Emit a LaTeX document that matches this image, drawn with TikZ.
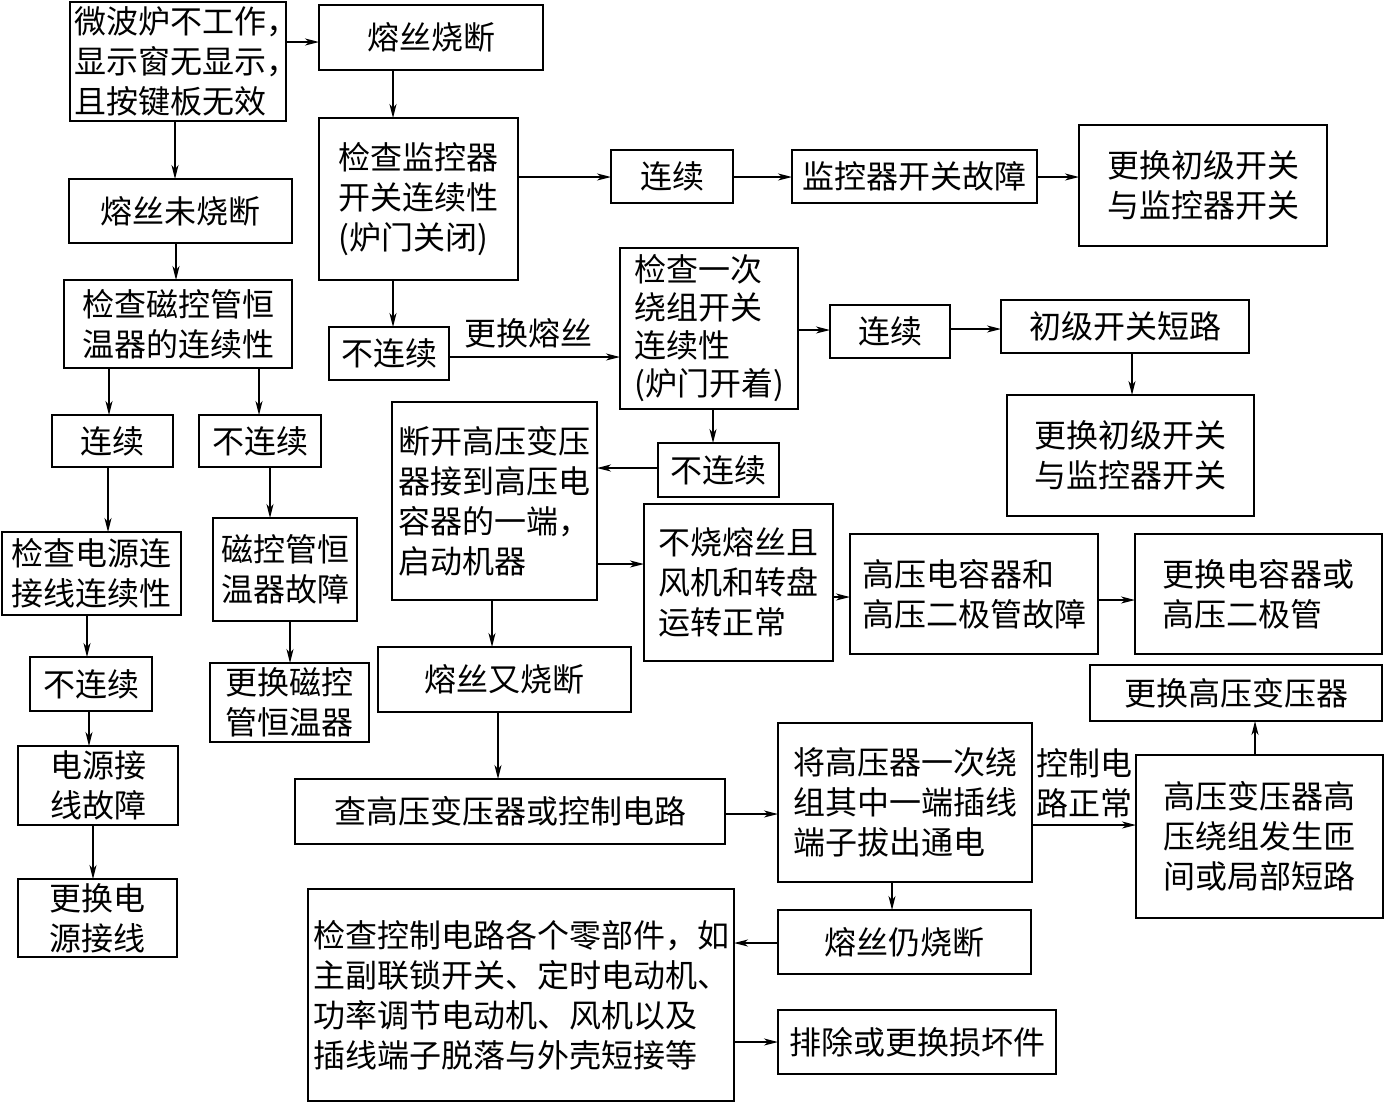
\documentclass[tikz,border=0pt]{standalone}
\usepackage{fontspec}
\newfontfamily\cjk{Noto Sans CJK SC}
\usetikzlibrary{arrows.meta}
\tikzset{
  box/.style={draw, line width=2.8pt, inner sep=0pt, outer sep=0pt, align=left,
    font=\cjk\fontsize{32}{40}\selectfont},
  tight/.style={font=\cjk\fontsize{32}{38}\selectfont},
  lbl/.style={inner sep=0pt, align=left, font=\cjk\fontsize{32}{40}\selectfont},
  arr/.style={-{Stealth[length=14pt,width=7pt,inset=4pt]}, line width=1.4pt}
}
\newcommand\bx[7][]{\node[box, #1, minimum width={(#5)-(#3)}, minimum height={(#6)-(#4)}]
  (#2) at ({((#3)+(#5))/2},{((#4)+(#6))/2}) {#7};}
\newcommand\hc{\makebox[0.5em][l]{，}}
\begin{document}
\begin{tikzpicture}[x=1pt,y=-1pt]
\useasboundingbox[fill=white] (0,0) rectangle (1386,1104);
\bx{A}{70}{2}{286}{121}{微波炉不工作\hc\\显示窗无显示\hc\\且按键板无效}
\bx{B}{319}{5}{543}{70}{熔丝烧断}
\bx{C}{69}{179}{292}{243}{熔丝未烧断}
\bx{D}{319}{118}{518}{280}{检查监控器\\开关连续性\\(炉门关闭)}
\bx{E}{64}{280}{292}{368}{检查磁控管恒\\温器的连续性}
\bx{F}{329}{327}{449}{380}{不连续}
\bx{G}{611}{150}{733}{203}{连续}
\bx{H}{792}{150}{1037}{203}{监控器开关故障}
\bx{I}{1079}{125}{1327}{246}{更换初级开关\\与监控器开关}
\bx[tight]{J}{620}{248}{798}{409}{检查一次\\绕组开关\\连续性\\(炉门开着)}
\bx{K}{830}{305}{950}{358}{连续}
\bx{L}{1001}{300}{1249}{353}{初级开关短路}
\bx{M}{1007}{395}{1254}{516}{更换初级开关\\与监控器开关}
\bx{N}{52}{415}{173}{467}{连续}
\bx{O}{199}{415}{321}{467}{不连续}
\bx{P}{392}{402}{597}{600}{断开高压变压\\器接到高压电\\容器的一端，\\启动机器}
\bx{Q}{658}{443}{779}{497}{不连续}
\bx{R}{2}{532}{181}{615}{检查电源连\\接线连续性}
\bx{S}{213}{518}{357}{621}{磁控管恒\\温器故障}
\bx{T}{644}{504}{833}{661}{不烧熔丝且\\风机和转盘\\运转正常}
\bx{U}{850}{534}{1098}{654}{高压电容器和\\高压二极管故障}
\bx{V}{1135}{534}{1382}{654}{更换电容器或\\高压二极管}
\bx{W}{30}{657}{152}{711}{不连续}
\bx{X}{210}{663}{369}{742}{更换磁控\\管恒温器}
\bx{Y}{378}{647}{631}{712}{熔丝又烧断}
\bx{Z}{1090}{665}{1382}{721}{更换高压变压器}
\bx{AA}{18}{746}{178}{825}{电源接\\线故障}
\bx{AB}{295}{779}{725}{844}{查高压变压器或控制电路}
\bx{AC}{778}{723}{1032}{882}{将高压器一次绕\\组其中一端插线\\端子拔出通电}
\bx{AD}{1136}{755}{1383}{918}{高压变压器高\\压绕组发生匝\\间或局部短路}
\bx{AE}{18}{879}{177}{957}{更换电\\源接线}
\bx{AF}{308}{889}{734}{1101}{检查控制电路各个零部件，如\\主副联锁开关、定时电动机、\\功率调节电动机、风机以及\\插线端子脱落与外壳短接等}
\bx{AG}{778}{910}{1031}{974}{熔丝仍烧断}
\bx{AH}{778}{1010}{1056}{1074}{排除或更换损坏件}
\node[lbl] (l1) at (528,333) {更换熔丝};
\node[lbl] (l2) at (1084,783) {控制电\\路正常};
\draw[arr] (A.east |- 0,42) -- (B.west |- 0,42);
\draw[arr] (A.south -| 175,0) -- (C.north -| 175,0);
\draw[arr] (C.south -| 176,0) -- (E.north -| 176,0);
\draw[arr] (B.south -| 393,0) -- (D.north -| 393,0);
\draw[arr] (D.east |- 0,177) -- (G.west |- 0,177);
\draw[arr] (G.east |- 0,177) -- (H.west |- 0,177);
\draw[arr] (H.east |- 0,177) -- (I.west |- 0,177);
\draw[arr] (D.south -| 393,0) -- (F.north -| 393,0);
\draw[arr] (F.east |- 0,357) -- (J.west |- 0,357);
\draw[arr] (J.east |- 0,330) -- (K.west |- 0,330);
\draw[arr] (K.east |- 0,329) -- (L.west |- 0,329);
\draw[arr] (L.south -| 1132,0) -- (M.north -| 1132,0);
\draw[arr] (J.south -| 713,0) -- (Q.north -| 713,0);
\draw[arr] (Q.west |- 0,468) -- (P.east |- 0,468);
\draw[arr] (P.east |- 0,564) -- (T.west |- 0,564);
\draw[arr] (T.east |- 0,597) -- (U.west |- 0,597);
\draw[arr] (U.east |- 0,600) -- (V.west |- 0,600);
\draw[arr] (E.south -| 109,0) -- (N.north -| 109,0);
\draw[arr] (E.south -| 259,0) -- (O.north -| 259,0);
\draw[arr] (N.south -| 108,0) -- (R.north -| 108,0);
\draw[arr] (O.south -| 270,0) -- (S.north -| 270,0);
\draw[arr] (R.south -| 87,0) -- (W.north -| 87,0);
\draw[arr] (S.south -| 290,0) -- (X.north -| 290,0);
\draw[arr] (W.south -| 89,0) -- (AA.north -| 89,0);
\draw[arr] (AA.south -| 93,0) -- (AE.north -| 93,0);
\draw[arr] (P.south -| 492,0) -- (Y.north -| 492,0);
\draw[arr] (Y.south -| 498,0) -- (AB.north -| 498,0);
\draw[arr] (AB.east |- 0,814) -- (AC.west |- 0,814);
\draw[arr] (AC.east |- 0,825) -- (AD.west |- 0,825);
\draw[arr] (AD.north -| 1255,0) -- (Z.south -| 1255,0);
\draw[arr] (AC.south -| 892,0) -- (AG.north -| 892,0);
\draw[arr] (AG.west |- 0,943) -- (AF.east |- 0,943);
\draw[arr] (AF.east |- 0,1042) -- (AH.west |- 0,1042);
\end{tikzpicture}
\end{document}
